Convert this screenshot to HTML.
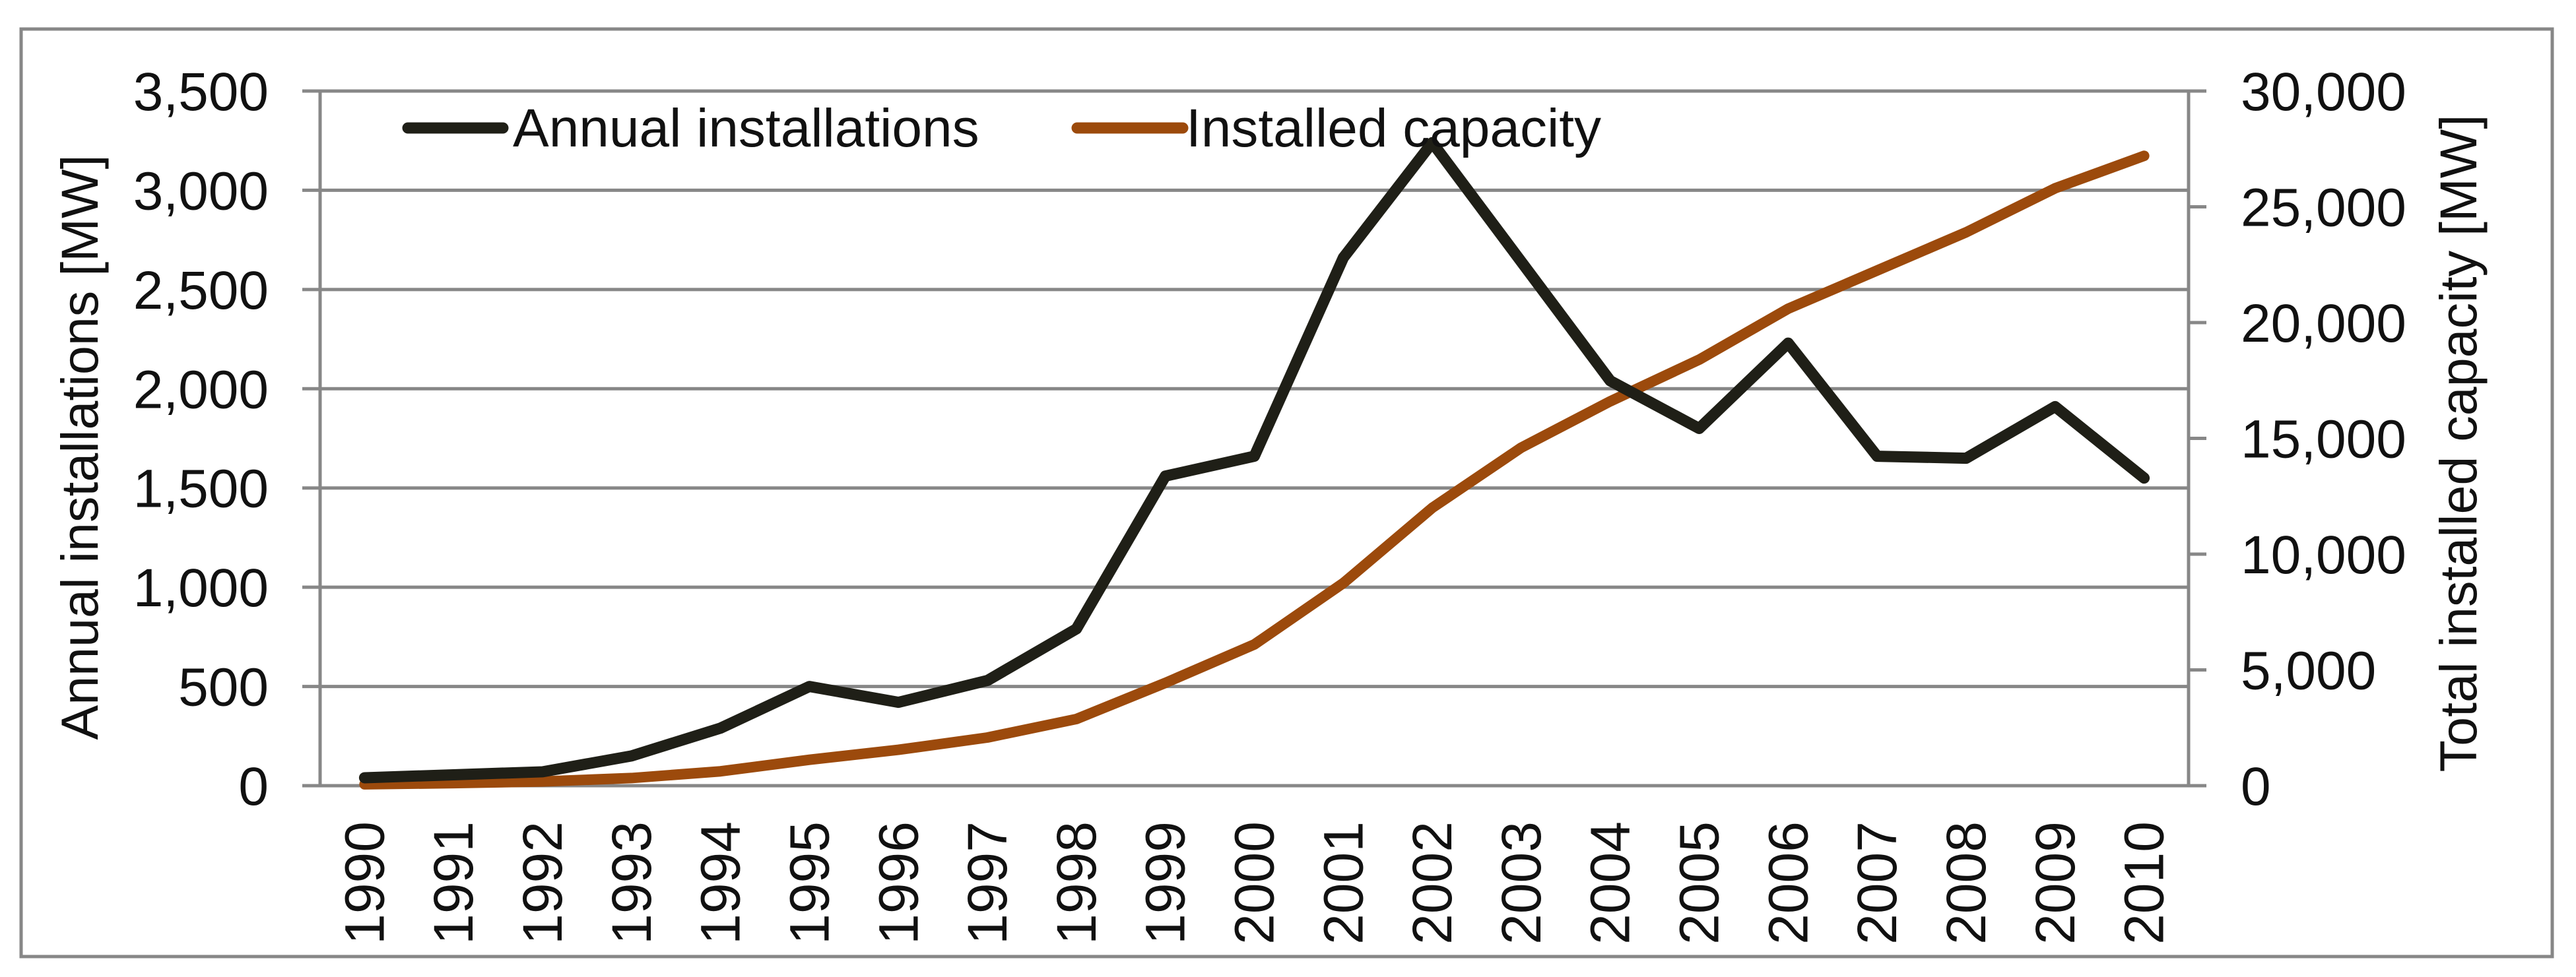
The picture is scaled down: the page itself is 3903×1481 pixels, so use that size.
<!DOCTYPE html>
<html><head><meta charset="utf-8"><style>
html,body{margin:0;padding:0;background:#fff;}
svg{display:block;font-family:"Liberation Sans",sans-serif;}
</style></head><body>
<svg id="chart" width="3903" height="1481" viewBox="0 0 3903 1481" xmlns="http://www.w3.org/2000/svg">
<rect x="32" y="44" width="3835" height="1406" fill="#fff" stroke="#878787" stroke-width="5"/>
<g id="grid"></g><g id="axes"></g><g id="series"></g>
<g>
<line x1="618" y1="194" x2="762" y2="194" stroke="#1f1f17" stroke-width="17" stroke-linecap="round"/>
<text x="777" y="222" font-size="82" fill="#111">Annual installations</text>
<line x1="1632" y1="194" x2="1792" y2="194" stroke="#9c4a0c" stroke-width="17" stroke-linecap="round"/>
<text x="1797" y="222" font-size="82" fill="#111">Installed capacity</text>
</g>
<text transform="translate(148,678) rotate(-90)" text-anchor="middle" font-size="79" fill="#111">Annual installations [MW]</text>
<text transform="translate(3752,672) rotate(-90)" text-anchor="middle" font-size="79" fill="#111">Total installed capacity [MW]</text>
</svg>
<script>
const years = ["1990","1991","1992","1993","1994","1995","1996","1997","1998","1999","2000","2001","2002","2003","2004","2005","2006","2007","2008","2009","2010"];
const annualInstallations = [40,55,70,150,290,500,420,530,790,1560,1660,2660,3240,2640,2040,1800,2230,1660,1650,1910,1550];
const installedCapacity = [60,110,180,330,620,1120,1550,2080,2880,4440,6100,8750,12000,14600,16600,18400,20600,22250,23900,25800,27200];
const leftTicks = [0,500,1000,1500,2000,2500,3000,3500];
const rightTicks = [0,5000,10000,15000,20000,25000,30000];

const NS="http://www.w3.org/2000/svg";
const L=485,R=3316,T=138,B=1191;
const band=(R-L)/years.length;
const xS=i=>L+band*(i+0.5);
const yL=v=>B-(v/3500)*(B-T);
const yR=v=>B-(v/30000)*(B-T);
function mk(tag,attrs,parent){const e=document.createElementNS(NS,tag);for(const k in attrs)e.setAttribute(k,attrs[k]);parent.appendChild(e);return e;}
const grid=document.getElementById('grid'),axes=document.getElementById('axes'),series=document.getElementById('series');
const fmt=v=>v.toLocaleString('en-US');
leftTicks.forEach(v=>{
  const y=yL(v);
  const g=mk('line',{x1:458,y1:y,x2:R,y2:y,stroke:'#878787','stroke-width':5},grid);
  
  
  const t=mk('text',{x:407,y:y+29,'text-anchor':'end','font-size':82,fill:'#111'},axes);
  t.textContent=fmt(v);
  
  
});
rightTicks.forEach(v=>{
  const y=yR(v);
  const m=mk('line',{x1:R,y1:y,x2:3343,y2:y,stroke:'#878787','stroke-width':5},axes);
  
  
  const t=mk('text',{x:3395,y:y+29,'font-size':82,fill:'#111'},axes);
  t.textContent=fmt(v);
  
  
});
const la=mk('line',{x1:L,y1:T,x2:L,y2:B,stroke:'#878787','stroke-width':5},axes);


const ra=mk('line',{x1:R,y1:T,x2:R,y2:B,stroke:'#878787','stroke-width':5},axes);


years.forEach((yr,i)=>{
  const x=xS(i);
  const t=mk('text',{transform:`translate(${x+29},1245) rotate(-90)`,'text-anchor':'end','font-size':84,fill:'#111'},axes);
  t.textContent=yr;
  
  
});
const capPts=installedCapacity.map((v,i)=>xS(i)+','+yR(v)).join(' ');
const cap=mk('polyline',{points:capPts,fill:'none',stroke:'#9c4a0c','stroke-width':16,'stroke-linejoin':'round','stroke-linecap':'round'},series);


const annPts=annualInstallations.map((v,i)=>xS(i)+','+yL(v)).join(' ');
const ann=mk('polyline',{points:annPts,fill:'none',stroke:'#1f1f17','stroke-width':17,'stroke-linejoin':'round','stroke-linecap':'round'},series);


</script>
</body></html>
